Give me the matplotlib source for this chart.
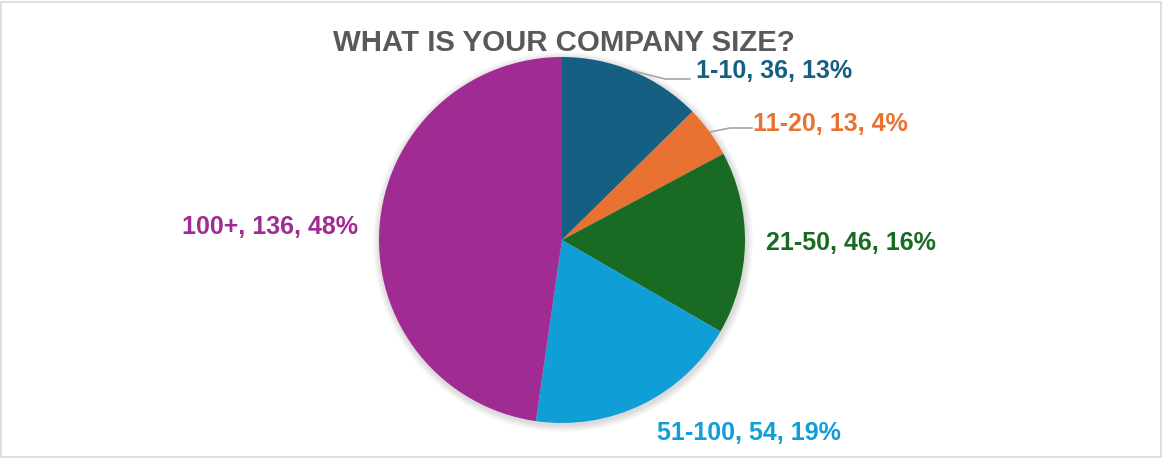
import matplotlib.pyplot as plt
from matplotlib.patches import Circle, Rectangle

# survey responses by company size
categories = ["1-10", "11-20", "21-50", "51-100", "100+"]
counts = [36, 13, 46, 54, 136]
percent_labels = ["13%", "4%", "16%", "19%", "48%"]
colors = ["#156082", "#E97132", "#196B24", "#0F9ED5", "#A02B93"]

W, H = 1163, 459
center = (562, H - 240)
radius = 183

# label anchors (pixel coords, y from top) and leader lines
label_pos = [(774, 71), (830, 124), (851, 243), (749, 433), (270, 227)]
leaders = {0: [(633, 71), (665, 79), (690, 79)], 1: [(710, 132), (730, 128), (752, 128)]}

plt.rcParams["font.family"] = ["Liberation Sans", "DejaVu Sans"]

fig = plt.figure(figsize=(W / 100, H / 100), dpi=100)
ax = fig.add_axes([0, 0, 1, 1])

ax.add_patch(Rectangle((1, 2), W - 3, H - 4, fill=False, edgecolor="#d9d9d9", linewidth=1.2))

# soft shadow under the pie
for i in range(6):
    ax.add_patch(Circle((center[0] + 1, center[1] - 2), radius + 1 + i * 1.2,
                        facecolor="#000000", alpha=0.025, edgecolor="none", zorder=1))

ax.pie(counts, colors=colors, startangle=90, counterclock=False,
       center=center, radius=radius, frame=True,
       wedgeprops=dict(linewidth=0, zorder=2))
ax.set_xlim(0, W)
ax.set_ylim(0, H)
ax.set_aspect("equal")
ax.axis("off")

for idx, pts in leaders.items():
    xs = [p[0] for p in pts]
    ys = [H - p[1] for p in pts]
    ax.plot(xs, ys, color="#a6a6a6", linewidth=1.2, zorder=3)

for cat, n, pct, col, (x, y) in zip(categories, counts, percent_labels, colors, label_pos):
    ax.text(x, H - y, f"{cat}, {n}, {pct}", color=col, fontsize=18, fontweight="bold",
            ha="center", va="center", zorder=4)

ax.text(564, H - 43, "WHAT IS YOUR COMPANY SIZE?", color="#595959", fontsize=21.2,
        fontweight="bold", ha="center", va="center", zorder=4)

fig.savefig("out.png", dpi=100)
